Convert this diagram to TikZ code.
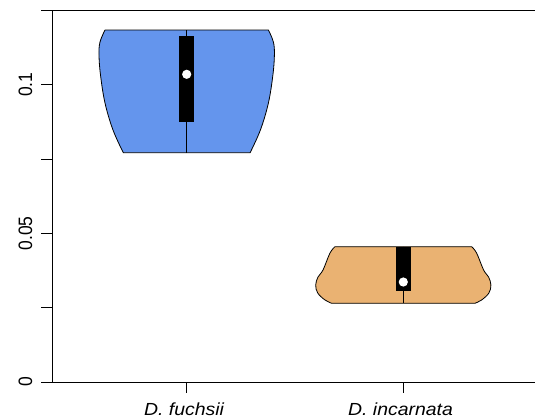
\documentclass[tikz,border=0pt]{standalone}
\usepackage{fontspec}
\setmainfont{Liberation Sans}
\definecolor{vblue}{RGB}{100,149,237}
\definecolor{vorange}{RGB}{234,178,114}
\begin{document}
\begin{tikzpicture}[x=1pt,y=-1pt,
  axisline/.style={line width=0.8pt,black},
  outline/.style={line width=0.8pt,black,line join=round},
  lbl/.style={font=\fontsize{17.5}{17.5}\selectfont,inner sep=0pt,xscale=1.11},
  ticklbl/.style={lbl,rotate=90,anchor=base},
  boxrect/.style={fill=black},
  meddot/.style={fill=white,draw=none}]
\useasboundingbox (0,0) rectangle (535,418);
% axes
\draw[axisline] (52.3,10.3) -- (52.3,382);
\draw[axisline] (41,10.3) -- (535,10.3);
\draw[axisline] (41,382) -- (535,382);
\foreach \yy in {84.7,159.1,233.4,307.7} \draw[axisline] (41,\yy) -- (52.3,\yy);
\draw[axisline] (186.7,382) -- (186.7,393);
\draw[axisline] (403.3,382) -- (403.3,393);
% tick labels
\node[ticklbl] (t1) at (32,84.7) {0.1};
\node[ticklbl] (t2) at (32,233.4) {0.05};
\node[ticklbl] (t0) at (32,382) {0};
\node[lbl,anchor=base] (g1) at (184,415) {\itshape D. fuchsii};
\node[lbl,anchor=base] (g2) at (400.5,415) {\itshape D. incarnata};
% blue violin
\filldraw[outline,fill=vblue] (105,30) -- (268.4,30)
  -- plot[smooth,tension=0.6] coordinates {(268.4,30) (273.4,42) (274.4,55) (272.9,75) (268.4,103) (260.4,130) (250.1,152.7)}
  -- (123.3,152.7)
  -- plot[smooth,tension=0.6] coordinates {(123.3,152.7) (113,130) (105,103) (100.5,75) (99,55) (100,42) (105,30)}
  -- cycle;
\draw[outline] (186.7,30) -- (186.7,152.7);
\fill[boxrect] (179,36) rectangle (194.4,121.7);
\fill[meddot] (186.7,74.3) circle (4.6);
% orange violin
\filldraw[outline,fill=vorange] (335,246.7) -- (471.6,246.7)
  -- plot[smooth,tension=0.6] coordinates {(471.6,246.7) (476.6,253) (483.6,270) (488.6,277) (490.9,285) (488.9,293) (481.6,300) (474.9,303.3)}
  -- (331.7,303.3)
  -- plot[smooth,tension=0.6] coordinates {(331.7,303.3) (325,300) (317.7,293) (315.7,285) (318,277) (323,270) (330,253) (335,246.7)}
  -- cycle;
\draw[outline] (403.3,246.7) -- (403.3,303.3);
\fill[boxrect] (395.7,247.3) rectangle (411,290.5);
\fill[meddot] (403.3,282) circle (4.6);
\end{tikzpicture}
\end{document}
